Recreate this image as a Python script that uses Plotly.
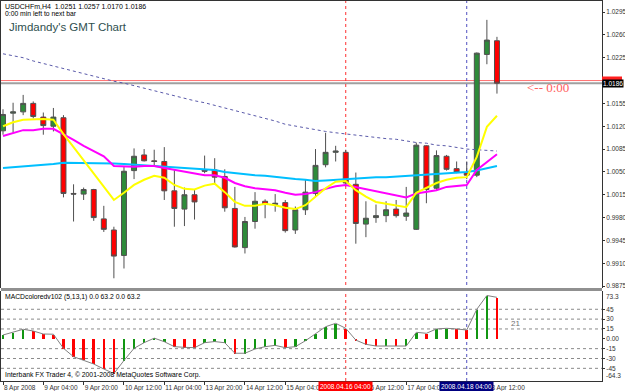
import plotly.graph_objects as go

# ---------------- data ----------------
bars = list(range(50))
opens = [1.0113, 1.0140, 1.0142, 1.0155, 1.0134, 1.0120, 1.0133, 1.0017, 1.0016, 1.0023,
         0.9978, 0.9961, 0.9922, 1.0052, 1.0076, 1.0067, 1.0066, 1.0021, 0.9993, 1.0015,
         1.0053, 1.0053, 1.0043, 0.9994, 0.9934, 0.9974, 1.0005, 1.0000, 1.0003, 0.9961,
         0.9992, 1.0017, 1.0061, 1.0080, 1.0080, 1.0031, 0.9970, 0.9980, 0.9983, 0.9993,
         0.9982, 0.9962, 1.0090, 1.0025, 1.0074, 1.0055, 1.0049, 1.0045, 1.0230, 1.0251]
highs = [1.0146, 1.0156, 1.0168, 1.0158, 1.0141, 1.0148, 1.0137, 1.0031, 1.0026, 1.0024,
         0.9998, 0.9966, 1.0059, 1.0086, 1.0085, 1.0084, 1.0088, 1.0053, 1.0026, 1.0023,
         1.0075, 1.0071, 1.0054, 1.0027, 0.9981, 1.0019, 1.0008, 1.0016, 1.0007, 0.9997,
         1.0039, 1.0085, 1.0110, 1.0090, 1.0084, 1.0049, 1.0005, 1.0000, 1.0005, 1.0007,
         1.0027, 1.0095, 1.0091, 1.0083, 1.0076, 1.0066, 1.0066, 1.0233, 1.0283, 1.0257]
lows = [1.0107, 1.0110, 1.0137, 1.0132, 1.0107, 1.0112, 1.0011, 0.9974, 1.0007, 0.9975,
        0.9958, 0.9887, 0.9902, 1.0039, 1.0066, 1.0059, 1.0007, 0.9966, 0.9967, 0.9977,
        1.0048, 1.0031, 0.9989, 0.9934, 0.9925, 0.9963, 0.9979, 0.9989, 0.9957, 0.9955,
        0.9984, 1.0012, 1.0057, 1.0066, 1.0028, 0.9940, 0.9950, 0.9972, 0.9973, 0.9980,
        0.9975, 0.9961, 1.0002, 1.0021, 1.0052, 1.0048, 1.0039, 1.0042, 1.0215, 1.0170]
closes = [1.0138, 1.0142, 1.0155, 1.0135, 1.0121, 1.0134, 1.0017, 1.0016, 1.0023, 0.9980,
          0.9962, 0.9921, 1.0051, 1.0074, 1.0067, 1.0066, 1.0021, 0.9994, 1.0015, 1.0004,
          1.0051, 1.0042, 0.9995, 0.9935, 0.9974, 1.0005, 1.0000, 1.0002, 0.9960, 0.9992,
          1.0019, 1.0060, 1.0080, 1.0082, 1.0033, 0.9971, 0.9979, 0.9983, 0.9992, 0.9983,
          0.9987, 1.0091, 1.0023, 1.0075, 1.0054, 1.0049, 1.0045, 1.0232, 1.0252, 1.0186]

ma_yellow = [1.0120, 1.0126, 1.0130, 1.0131, 1.0131, 1.0130, 1.0108, 1.0088, 1.0068, 1.0048,
             1.0027, 1.0007, 1.0018, 1.0030, 1.0038, 1.0044, 1.0041, 1.0030, 1.0024, 1.0023,
             1.0029, 1.0032, 1.0019, 1.0004, 0.9998, 0.9998, 1.0001, 0.9999, 0.9995, 0.9993,
             0.9999, 1.0012, 1.0025, 1.0035, 1.0036, 1.0022, 1.0012, 1.0004, 1.0001, 0.9999,
             0.9996, 1.0018, 1.0025, 1.0033, 1.0038, 1.0041, 1.0042, 1.0073, 1.0119, 1.0136]
ma_magenta = [1.0105, 1.0110, 1.0114, 1.0114, 1.0116, 1.0116, 1.0108, 1.0099, 1.0090, 1.0082,
              1.0074, 1.0059, 1.0058, 1.0058, 1.0059, 1.0059, 1.0056, 1.0053, 1.0050, 1.0047,
              1.0045, 1.0045, 1.0041, 1.0033, 1.0028, 1.0025, 1.0024, 1.0022, 1.0018, 1.0015,
              1.0016, 1.0019, 1.0024, 1.0028, 1.0030, 1.0027, 1.0024, 1.0021, 1.0018, 1.0015,
              1.0011, 1.0017, 1.0019, 1.0022, 1.0027, 1.0028, 1.0030, 1.0053, 1.0065, 1.0077]
ma_blue = [1.0056, 1.0057, 1.0058, 1.0059, 1.0061, 1.0062, 1.0064, 1.0064, 1.0064, 1.0064,
           1.0064, 1.0063, 1.0062, 1.0061, 1.0061, 1.0060, 1.0059, 1.0058, 1.0057, 1.0055,
           1.0054, 1.0053, 1.0050, 1.0048, 1.0047, 1.0045, 1.0044, 1.0042, 1.0041, 1.0039,
           1.0038, 1.0036, 1.0037, 1.0038, 1.0040, 1.0041, 1.0041, 1.0042, 1.0042, 1.0043,
           1.0044, 1.0045, 1.0046, 1.0047, 1.0048, 1.0048, 1.0050, 1.0052, 1.0056, 1.0059]
ma_dotted = [1.0231, 1.0228, 1.0225, 1.0220, 1.0216, 1.0212, 1.0209, 1.0205, 1.0201, 1.0197,
             1.0193, 1.0189, 1.0186, 1.0182, 1.0178, 1.0174, 1.0170, 1.0166, 1.0163, 1.0159,
             1.0156, 1.0152, 1.0148, 1.0144, 1.0140, 1.0137, 1.0133, 1.0128, 1.0123, 1.0120,
             1.0117, 1.0114, 1.0112, 1.0110, 1.0108, 1.0106, 1.0104, 1.0103, 1.0101, 1.0100,
             1.0097, 1.0095, 1.0094, 1.0091, 1.0090, 1.0087, 1.0085, 1.0084, 1.0083, 1.0082]

macd = [5.8, 9.9, 14.5, 11.9, 7.3, 7.0, -14.5, -27.3, -32.3, -38.4,
        -46.0, -53.0, -33.0, -14.5, -5.9, 1.0, -4.4, -12.0, -13.0, -13.5,
        -5.9, -4.2, -6.0, -22.0, -22.0, -15.5, -12.0, -10.0, -13.5, -12.0,
        -3.0, 8.4, 18.4, 23.6, 16.0, -2.0, -8.4, -11.0, -11.0, -11.0,
        -11.0, 9.9, 8.4, 15.0, 16.0, 15.0, 13.4, 45.0, 66.0, 63.2]
macd_dir = ["up", "up", "up", "dn", "dn", "dn", "dn", "dn", "dn", "dn",
            "dn", "dn", "up", "up", "up", "up", "up", "dn", "dn", "dn",
            "up", "up", "up", "dn", "up", "up", "up", "up", "dn", "up",
            "up", "up", "up", "up", "dn", "dn", "dn", "dn", "up", "dn",
            "up", "up", "dn", "up", "up", "dn", "dn", "up", "up", "dn"]

# time labels hidden in the reference under the boxed separator labels are left out
time_tick_idx = [0, 4, 8, 12, 16, 20, 24, 28, 36, 40, 48]
time_tick_text = ["8 Apr 2008", "9 Apr 04:00", "9 Apr 20:00", "10 Apr 12:00", "11 Apr 04:00",
                  "13 Apr 20:00", "14 Apr 12:00", "15 Apr 04:00", "16 Apr 12:00",
                  "17 Apr 04:00", "18 Apr 12:00"]
price_ticks = [1.0295, 1.0260, 1.0225, 1.0155, 1.0120, 1.0085, 1.0050, 1.0015,
               0.9980, 0.9945, 0.9910, 0.9875]
price_range = [0.98721, 1.03119]
macd_range = [-64.3, 73.3]
macd_levels = [45, 30, 15, -15, -30, -45]
macd_ticks = [45, 30, 15, 0, -15, -30, -45]
macd_ticktext = ["45", "30", "15", "0.00", "-15", "-30", "-45"]
bid = 1.0186
ask = 1.0190
red_vline_idx, red_vline_label = 34, "2008.04.16 04:00"
blue_vline_idx, blue_vline_label = 46, "2008.04.18 04:00"

# ---------------- figure ----------------
W, H = 625, 391
ML, MR, MT, MB = 1, 23, 1, 10
plot_h = H - MT - MB
def py(p):  # pixel row -> paper fraction
    return (H - MB - p) / plot_h
def px(p):
    return (p - ML) / (W - ML - MR)

SMALL = "Liberation Sans"
fig = go.Figure()

for vals, col, dash, w in [(ma_dotted, "#5a5aaa", "dot", 1),
                           (ma_blue, "#00BFFF", "solid", 2),
                           (ma_magenta, "#FF00FF", "solid", 2),
                           (ma_yellow, "#FFFF00", "solid", 2)]:
    fig.add_trace(go.Scatter(x=bars, y=vals, mode="lines",
                             line=dict(color=col, width=w, dash=dash),
                             xaxis="x", yaxis="y", hoverinfo="skip"))

fig.add_trace(go.Candlestick(x=bars, open=opens, high=highs, low=lows, close=closes,
                             increasing=dict(fillcolor="#2E8B3A", line=dict(color="#505050", width=1)),
                             decreasing=dict(fillcolor="#FF0000", line=dict(color="#505050", width=1)),
                             xaxis="x", yaxis="y", hoverinfo="skip"))

fig.add_trace(go.Bar(x=bars, y=macd, width=0.25,
                     marker=dict(color=["#129612" if d == "up" else "#FF0000" for d in macd_dir],
                                 line=dict(width=0)),
                     xaxis="x2", yaxis="y2", hoverinfo="skip"))
fig.add_trace(go.Scatter(x=bars, y=macd, mode="lines", line=dict(color="#808080", width=1),
                         xaxis="x2", yaxis="y2", hoverinfo="skip"))

shapes = []
# bid / ask lines
shapes.append(dict(type="line", xref="x domain", x0=0, x1=1, yref="y", y0=bid, y1=bid,
                   line=dict(color="#A0A0A0", width=2), layer="below"))
shapes.append(dict(type="line", xref="x domain", x0=0, x1=1, yref="y", y0=ask, y1=ask,
                   line=dict(color="#FF7070", width=1), layer="below"))
# ask marker box on the price scale (its text is hidden behind the bid box)
shapes.append(dict(type="rect", xref="paper", x0=1, x1=1 + 20 / 601, yref="paper",
                   y0=py(80.5), y1=py(76.5), fillcolor="#FF2020", line=dict(width=0)))
# vertical period separators
for idx, col in [(red_vline_idx, "#FF3030"), (blue_vline_idx, "#5050C0")]:
    shapes.append(dict(type="line", xref="x", x0=idx, x1=idx, yref="paper", y0=0, y1=1,
                       line=dict(color=col, width=1, dash="dot"), layer="below"))
# MACD level lines
for lv in macd_levels:
    shapes.append(dict(type="line", xref="x2 domain", x0=0, x1=1, yref="y2", y0=lv, y1=lv,
                       line=dict(color="#8a8a8a", width=1, dash="dot"), layer="below"))
# pane separator
shapes.append(dict(type="line", xref="paper", x0=0, x1=1, yref="paper",
                   y0=py(289.5), y1=py(289.5), line=dict(color="#909090", width=3)))

ann = []
def text(x, y, s, size=6.8, color="#000", family=SMALL, xanchor="left", **kw):
    ann.append(dict(x=x, y=y, xref="paper", yref="paper", text=s, showarrow=False,
                    xanchor=xanchor, yanchor="middle", font=dict(size=size, color=color, family=family), **kw))

text(px(3), py(6), "USDCHFm,H4  1.0251 1.0257 1.0170 1.0186", size=7)
text(px(3), py(14), "0:00 min left to next bar")
text(px(7), py(27), "Jimdandy's GMT Chart", size=11.5, color="#2F4F4F", family="Liberation Sans")
text(px(3), py(297), "MACDcoloredv102 (5,13,1) 0.0 63.2 0.0 63.2")
text(px(3), py(375), "Interbank FX Trader 4, © 2001-2008 MetaQuotes Software Corp.")

# "<-- 0:00" and "21"
ann.append(dict(x=51.8, y=1.0180, xref="x", yref="y", text="<-- 0:00", showarrow=False,
                xanchor="left", yanchor="middle",
                font=dict(size=13, color="#FF6060", family="Liberation Serif")))
ann.append(dict(x=50.2, y=24, xref="x2", yref="y2", text="21", showarrow=False,
                xanchor="left", yanchor="middle",
                font=dict(size=8, color="#707070", family=SMALL)))

# bid price box on the right axis
ann.append(dict(x=1, y=bid, xref="paper", yref="y", text=f"{bid:.4f}", showarrow=False,
                xanchor="left", yanchor="middle", bgcolor="#000000", borderpad=0,
                font=dict(size=6.5, color="#FFFFFF", family=SMALL)))
# MACD min / max labels
ann.append(dict(x=1, y=macd_range[1], xref="paper", yref="y2", text="73.3", showarrow=False,
                xanchor="left", yanchor="top", xshift=2, font=dict(size=6.5, color="#333", family=SMALL)))
ann.append(dict(x=1, y=macd_range[0], xref="paper", yref="y2", text="-64.3", showarrow=False,
                xanchor="left", yanchor="bottom", xshift=2, font=dict(size=6.5, color="#333", family=SMALL)))
# boxed time labels for the separators
for idx, lab, bg in [(red_vline_idx, red_vline_label, "#FF0000"), (blue_vline_idx, blue_vline_label, "#000080")]:
    ann.append(dict(x=idx, y=py(386), xref="x2", yref="paper", text=lab, showarrow=False,
                    xanchor="center", yanchor="middle", bgcolor=bg, borderpad=1,
                    font=dict(size=6.5, color="#FFFFFF", family=SMALL)))

xr = [-0.198, 59.42]
axis_font = dict(size=6.5, color="#333", family=SMALL)
fig.update_layout(
    width=W, height=H, margin=dict(l=ML, r=MR, t=MT, b=MB, autoexpand=False),
    paper_bgcolor="white", plot_bgcolor="white", showlegend=False,
    hovermode=False, bargap=0,
    xaxis=dict(domain=[0, 1], range=xr, anchor="y", side="top", showticklabels=False,
               ticks="", showgrid=False, zeroline=False, showline=True, linecolor="#333",
               linewidth=1, rangeslider=dict(visible=False)),
    xaxis2=dict(domain=[0, 1], range=xr, anchor="y2", matches="x", tickvals=time_tick_idx,
                ticktext=time_tick_text, ticks="outside", ticklen=3, tickcolor="#333",
                tickangle=0, automargin=False, ticklabeloverflow="allow",
                ticklabelposition="outside right", tickfont=axis_font, showgrid=False,
                zeroline=False, showline=True, linecolor="#333", linewidth=1),
    yaxis=dict(domain=[py(288), 1], range=price_range, side="right", tickvals=price_ticks,
               ticktext=[f"{v:.4f}" for v in price_ticks], ticks="outside", ticklen=2,
               tickcolor="#333", tickfont=axis_font, showgrid=False, zeroline=False,
               automargin=False, showline=True, mirror=True, linecolor="#333", linewidth=1),
    yaxis2=dict(domain=[0, py(290.7)], range=macd_range, side="right", tickvals=macd_ticks,
                ticktext=macd_ticktext, ticks="outside", ticklen=2, tickcolor="#333",
                automargin=False, tickfont=axis_font, showgrid=False, zeroline=False,
                showline=True, mirror=True, linecolor="#333", linewidth=1),
    shapes=shapes, annotations=ann,
)

fig.write_html("out.html")
